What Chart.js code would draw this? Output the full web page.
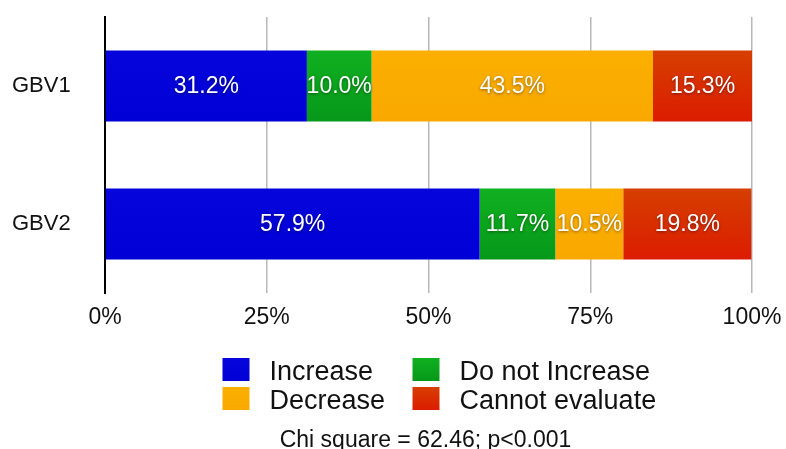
<!DOCTYPE html>
<html>
<head>
<meta charset="utf-8">
<script src="https://cdn.jsdelivr.net/npm/chart.js@4"></script>
<style>
  html, body { margin: 0; padding: 0; background: #ffffff; }
  #wrap { width: 786px; height: 449px; }
</style>
</head>
<body>
<div id="wrap"><canvas id="c" width="786" height="449"></canvas></div>
<script>
// ---- data ----
const categories = ['GBV1', 'GBV2'];
const seriesLabels = ['Increase', 'Do not Increase', 'Decrease', 'Cannot evaluate'];
const increase = [31.2, 57.9];
const doNotIncrease = [10.0, 11.7];
const decrease = [43.5, 10.5];
const cannotEvaluate = [15.3, 19.8];
const xTickValues = [0, 25, 50, 75, 100];
const footnote = 'Chi square = 62.46; p<0.001';

// ---- styles ----
const FONT = '"Liberation Sans", Arial, Helvetica, sans-serif';
const colors = [
  { top: '#0606dc', bottom: '#0000d6', solid: '#0303d9' },
  { top: '#10b020', bottom: '#06981a', solid: '#0aa51d' },
  { top: '#fbb000', bottom: '#f9a800', solid: '#faac00' },
  { top: '#d63f00', bottom: '#dc1c00', solid: '#d92d00' }
];

function barFill(idx) {
  return function (ctx) {
    const chart = ctx.chart;
    const ys = chart.scales && chart.scales.y;
    const c = colors[idx];
    if (!ys || ctx.type !== 'data' || !chart.chartArea) return c.solid;
    const yc = ys.getPixelForValue(ctx.dataIndex);
    const half = 36;
    const g = chart.ctx.createLinearGradient(0, yc - half, 0, yc + half);
    g.addColorStop(0, c.top);
    g.addColorStop(1, c.bottom);
    return g;
  };
}

const seriesValues = [increase, doNotIncrease, decrease, cannotEvaluate];
const datasets = seriesValues.map((vals, i) => ({
  label: seriesLabels[i],
  data: vals,
  backgroundColor: barFill(i),
  borderWidth: 0,
  barPercentage: 0.515,
  categoryPercentage: 1.0
}));

// value labels inside bars
const valueLabels = {
  id: 'valueLabels',
  afterDatasetsDraw(chart) {
    const ctx = chart.ctx;
    ctx.save();
    ctx.font = '23px ' + FONT;
    ctx.textAlign = 'center';
    ctx.textBaseline = 'middle';
    chart.data.datasets.forEach((ds, di) => {
      const meta = chart.getDatasetMeta(di);
      meta.data.forEach((el, i) => {
        const p = el.getProps(['x', 'y', 'base'], true);
        const cx = (p.x + p.base) / 2;
        ctx.shadowColor = 'rgba(0,0,0,0.45)';
        ctx.shadowBlur = 3;
        ctx.shadowOffsetX = 0;
        ctx.shadowOffsetY = 1;
        ctx.fillStyle = '#ffffff';
        ctx.fillText(ds.data[i].toFixed(1) + '%', cx, p.y + 1);
      });
    });
    ctx.restore();
  }
};

// custom 2x2 legend + footnote
const legendAndNote = {
  id: 'legendAndNote',
  afterDraw(chart) {
    const ctx = chart.ctx;
    const area = chart.chartArea;
    const cx = (area.left + area.right) / 2;
    const colX = [cx - 206, cx - 16];
    const rowTop = [358, 387];
    ctx.save();
    ctx.font = '27px ' + FONT;
    ctx.textAlign = 'left';
    ctx.textBaseline = 'alphabetic';
    chart.data.datasets.forEach((ds, i) => {
      const col = i % 2, row = Math.floor(i / 2);
      const bx = colX[col], by = rowTop[row];
      const g = ctx.createLinearGradient(0, by, 0, by + 23);
      g.addColorStop(0, colors[i].top);
      g.addColorStop(1, colors[i].bottom);
      ctx.fillStyle = g;
      ctx.fillRect(bx, by, 27, 23);
      ctx.fillStyle = '#111111';
      ctx.fillText(ds.label, bx + 47, by + 22);
    });
    ctx.font = '23px ' + FONT;
    ctx.textAlign = 'center';
    ctx.fillStyle = '#111111';
    ctx.fillText(footnote, cx - 3, 447);
    ctx.restore();
  }
};

new Chart(document.getElementById('c'), {
  type: 'bar',
  data: { labels: categories, datasets: datasets },
  options: {
    indexAxis: 'y',
    responsive: false,
    animation: false,
    devicePixelRatio: 1,
    layout: { padding: { top: 17, right: 34, left: 12, bottom: 111 } },
    plugins: {
      legend: { display: false },
      tooltip: { enabled: false },
      title: { display: false }
    },
    scales: {
      x: {
        stacked: true,
        min: 0,
        max: 100,
        afterBuildTicks(scale) {
          scale.ticks = xTickValues.map(v => ({ value: v }));
        },
        afterFit(scale) {
          scale.height = 45;
          scale.paddingLeft = 0;
          scale.paddingRight = 0;
        },
        ticks: {
          callback: v => v + '%',
          font: { size: 23, family: FONT },
          color: '#111111',
          padding: 11,
          maxRotation: 0
        },
        grid: { color: '#b8b8b8', lineWidth: 1.5, drawTicks: false },
        border: { display: false }
      },
      y: {
        stacked: true,
        afterFit(scale) {
          scale.width = 93;
          scale.paddingTop = 0;
          scale.paddingBottom = 0;
        },
        ticks: {
          font: { size: 22, family: FONT },
          color: '#111111',
          crossAlign: 'far',
          padding: 0
        },
        grid: { display: false, drawTicks: false },
        border: { display: true, color: '#000000', width: 2 }
      }
    }
  },
  plugins: [valueLabels, legendAndNote]
});
</script>
</body>
</html>
